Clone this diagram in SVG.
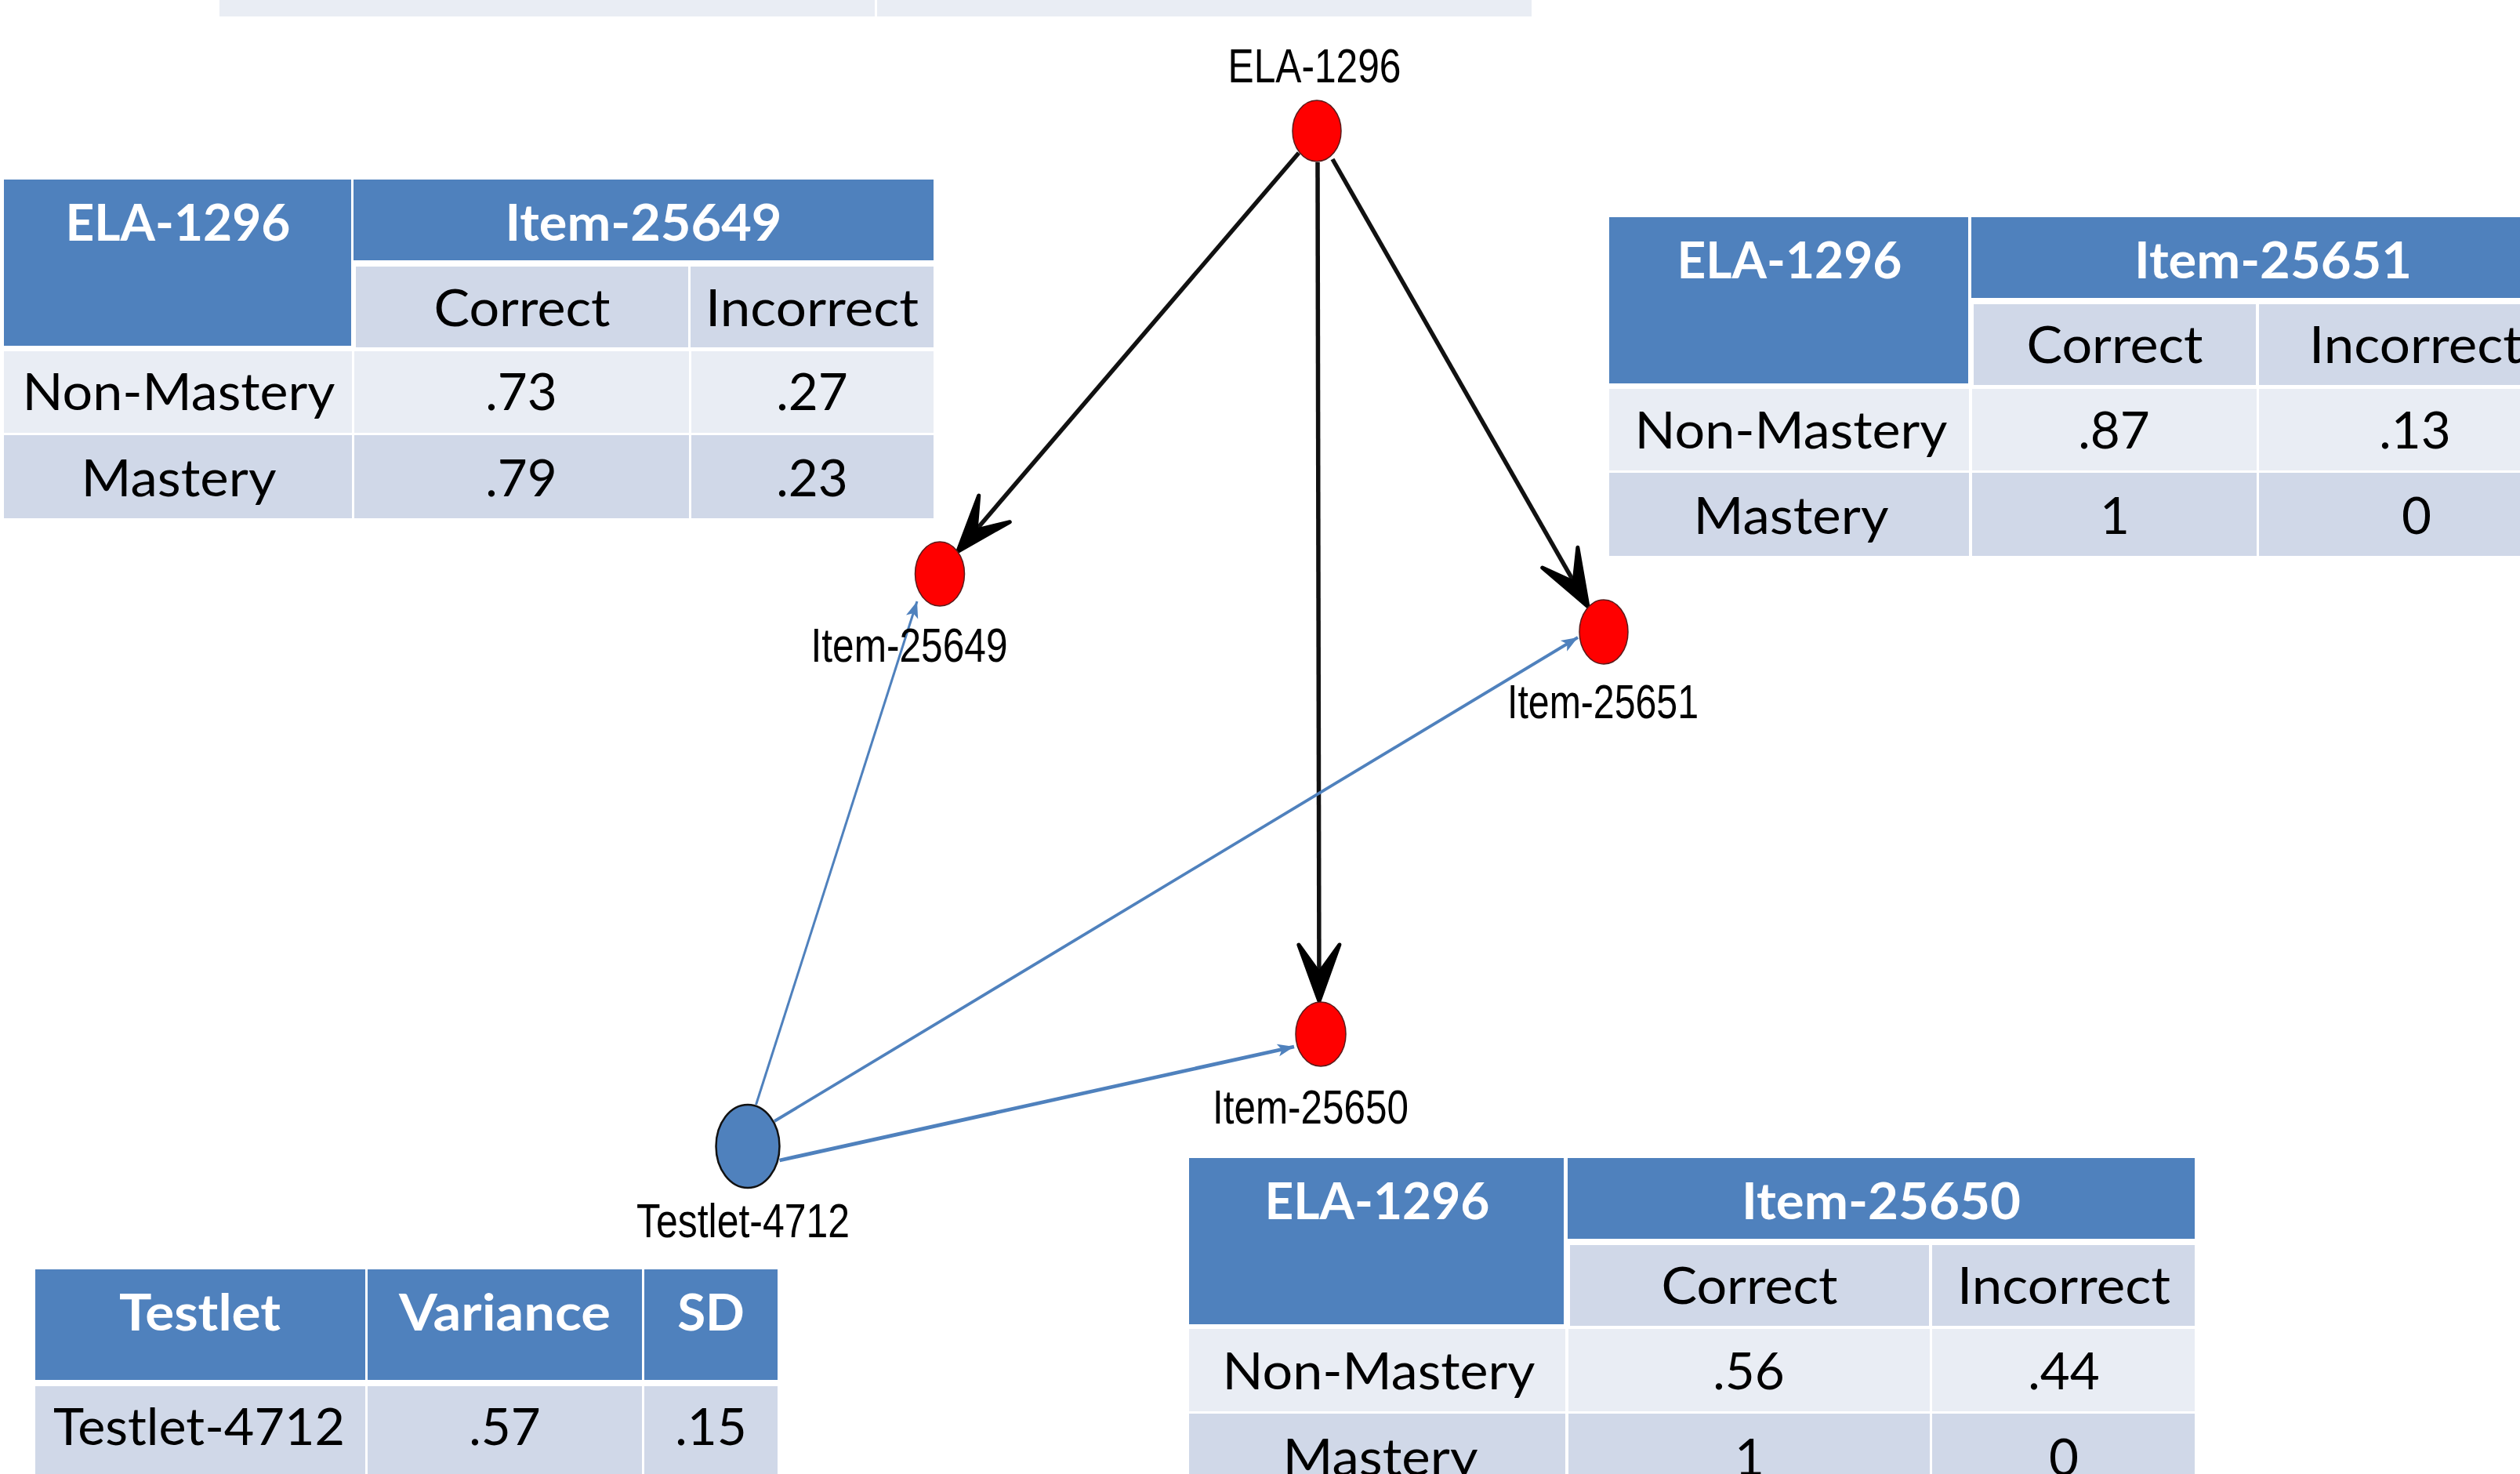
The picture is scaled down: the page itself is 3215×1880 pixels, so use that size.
<svg xmlns="http://www.w3.org/2000/svg" width="3215" height="1880" viewBox="0 0 3215 1880">
<style>
.hdr{fill:#4F81BD}
.lt{fill:#E9EDF4}
.dk{fill:#D0D8E8}
.th{font-family:Lato,"Liberation Sans",sans-serif;font-size:65.5px;font-weight:bold;fill:#FFFFFF;text-anchor:middle}
.td{font-family:Lato,"Liberation Sans",sans-serif;font-size:65.5px;fill:#000000;text-anchor:middle}
.nl{font-family:"Liberation Sans",Arial,sans-serif;font-size:62px;fill:#000000;text-anchor:middle}
.blk{stroke:#111111;stroke-width:5.5;fill:none}
.blu{stroke:#4F81BD;fill:none}
.red{fill:#FF0000;stroke:#5a1a1a;stroke-width:1.5}
</style>
<defs>
<marker id="blackArrow" markerUnits="userSpaceOnUse" markerWidth="90" markerHeight="60" refX="78" refY="30" orient="auto" overflow="visible">
<path d="M80,30 L8,4 L44,30 L8,56 Z" fill="#000000" stroke="#000000" stroke-width="5" stroke-linejoin="round"/>
</marker>
<marker id="blueArrow" markerUnits="userSpaceOnUse" markerWidth="30" markerHeight="20" refX="22" refY="10" orient="auto" overflow="visible">
<path d="M22,10 L1,2 L6,10 L1,18 Z" fill="#4F81BD"/>
</marker>
</defs>
<rect width="3215" height="1880" fill="#FFFFFF"/>

<g id="top-strip">
<rect class="lt" x="280" y="0" width="836" height="21"/>
<rect class="lt" x="1119" y="0" width="835" height="21"/>
</g>

<g id="connectors">
<line class="blk" x1="1657" y1="195" x2="1223" y2="702" marker-end="url(#blackArrow)"/>
<line class="blk" x1="1700" y1="203" x2="2025" y2="772" marker-end="url(#blackArrow)"/>
<line class="blk" x1="1681" y1="207" x2="1683" y2="1275" marker-end="url(#blackArrow)"/>
<line class="blu" stroke-width="3" x1="964.5" y1="1409" x2="1170" y2="767" marker-end="url(#blueArrow)"/>
<line class="blu" stroke-width="3.8" x1="988" y1="1430" x2="2013" y2="813" marker-end="url(#blueArrow)"/>
<line class="blu" stroke-width="4.8" x1="994.5" y1="1480" x2="1651" y2="1335" marker-end="url(#blueArrow)"/>
</g>

<g id="node-ELA-1296">
<ellipse class="red" cx="1680" cy="167" rx="31" ry="39"/>
<text class="nl" x="1677" y="105" textLength="221" lengthAdjust="spacingAndGlyphs">ELA-1296</text>
</g>
<g id="node-Item-25649">
<ellipse class="red" cx="1199" cy="732" rx="31.5" ry="41"/>
<text class="nl" x="1160" y="844" textLength="251" lengthAdjust="spacingAndGlyphs">Item-25649</text>
</g>
<g id="node-Item-25651">
<ellipse class="red" cx="2046" cy="806" rx="31" ry="41"/>
<text class="nl" x="2045" y="916" textLength="244" lengthAdjust="spacingAndGlyphs">Item-25651</text>
</g>
<g id="node-Item-25650">
<ellipse class="red" cx="1685" cy="1319" rx="32" ry="41"/>
<text class="nl" x="1672" y="1433" textLength="250" lengthAdjust="spacingAndGlyphs">Item-25650</text>
</g>
<g id="node-Testlet-4712">
<ellipse cx="954" cy="1462" rx="40.5" ry="53" fill="#4F81BD" stroke="#111111" stroke-width="2.5"/>
<text class="nl" x="948" y="1578" textLength="272" lengthAdjust="spacingAndGlyphs">Testlet-4712</text>
</g>

<g id="table-Item-25649">
<rect class="hdr" x="5" y="229" width="443" height="212"/>
<rect class="hdr" x="451" y="229" width="740" height="103"/>
<rect class="dk" x="454" y="340" width="424" height="103"/>
<rect class="dk" x="881" y="340" width="310" height="103"/>
<rect class="lt" x="5" y="448" width="444" height="104"/>
<rect class="lt" x="452" y="448" width="427" height="104"/>
<rect class="lt" x="882" y="448" width="309" height="104"/>
<rect class="dk" x="5" y="555" width="444" height="106"/>
<rect class="dk" x="452" y="555" width="427" height="106"/>
<rect class="dk" x="882" y="555" width="309" height="106"/>
<text class="th" x="227" y="307" textLength="287" lengthAdjust="spacingAndGlyphs">ELA-1296</text>
<text class="th" x="821" y="307" textLength="353" lengthAdjust="spacingAndGlyphs">Item-25649</text>
<text class="td" x="666" y="416" textLength="225" lengthAdjust="spacingAndGlyphs">Correct</text>
<text class="td" x="1036" y="416" textLength="272" lengthAdjust="spacingAndGlyphs">Incorrect</text>
<text class="td" x="228" y="523" textLength="399" lengthAdjust="spacingAndGlyphs">Non-Mastery</text>
<text class="td" x="665" y="523">.73</text>
<text class="td" x="1036" y="523">.27</text>
<text class="td" x="228" y="633" textLength="249" lengthAdjust="spacingAndGlyphs">Mastery</text>
<text class="td" x="665" y="633">.79</text>
<text class="td" x="1036" y="633">.23</text>
</g>

<g id="table-Item-25651">
<rect class="hdr" x="2053" y="277" width="458" height="212"/>
<rect class="hdr" x="2515" y="277" width="770" height="103"/>
<rect class="dk" x="2518" y="388" width="360" height="103"/>
<rect class="dk" x="2882" y="388" width="403" height="103"/>
<rect class="lt" x="2053" y="496" width="459" height="104"/>
<rect class="lt" x="2516" y="496" width="363" height="104"/>
<rect class="lt" x="2882" y="496" width="403" height="104"/>
<rect class="dk" x="2053" y="603" width="459" height="106"/>
<rect class="dk" x="2516" y="603" width="363" height="106"/>
<rect class="dk" x="2882" y="603" width="403" height="106"/>
<text class="th" x="2283" y="355" textLength="287" lengthAdjust="spacingAndGlyphs">ELA-1296</text>
<text class="th" x="2900" y="355" textLength="354" lengthAdjust="spacingAndGlyphs">Item-25651</text>
<text class="td" x="2698" y="463" textLength="225" lengthAdjust="spacingAndGlyphs">Correct</text>
<text class="td" x="3082" y="463" textLength="272" lengthAdjust="spacingAndGlyphs">Incorrect</text>
<text class="td" x="2285" y="572" textLength="399" lengthAdjust="spacingAndGlyphs">Non-Mastery</text>
<text class="td" x="2697" y="572">.87</text>
<text class="td" x="3081" y="572">.13</text>
<text class="td" x="2285" y="681" textLength="249" lengthAdjust="spacingAndGlyphs">Mastery</text>
<text class="td" x="2698" y="681">1</text>
<text class="td" x="3083" y="681">0</text>
</g>

<g id="table-Item-25650">
<rect class="hdr" x="1517" y="1477" width="478" height="212"/>
<rect class="hdr" x="2000" y="1477" width="800" height="103"/>
<rect class="dk" x="2003" y="1588" width="458" height="103"/>
<rect class="dk" x="2465" y="1588" width="335" height="103"/>
<rect class="lt" x="1517" y="1695" width="480" height="105"/>
<rect class="lt" x="2001" y="1695" width="461" height="105"/>
<rect class="lt" x="2465" y="1695" width="335" height="105"/>
<rect class="dk" x="1517" y="1803" width="480" height="106"/>
<rect class="dk" x="2001" y="1803" width="461" height="106"/>
<rect class="dk" x="2465" y="1803" width="335" height="106"/>
<text class="th" x="1757" y="1555" textLength="287" lengthAdjust="spacingAndGlyphs">ELA-1296</text>
<text class="th" x="2400" y="1555" textLength="356" lengthAdjust="spacingAndGlyphs">Item-25650</text>
<text class="td" x="2232" y="1663" textLength="225" lengthAdjust="spacingAndGlyphs">Correct</text>
<text class="td" x="2633" y="1663" textLength="272" lengthAdjust="spacingAndGlyphs">Incorrect</text>
<text class="td" x="1759" y="1772" textLength="399" lengthAdjust="spacingAndGlyphs">Non-Mastery</text>
<text class="td" x="2231" y="1772">.56</text>
<text class="td" x="2633" y="1772">.44</text>
<text class="td" x="1761" y="1882" textLength="249" lengthAdjust="spacingAndGlyphs">Mastery</text>
<text class="td" x="2232" y="1882">1</text>
<text class="td" x="2633" y="1882">0</text>
</g>

<g id="table-Testlet">
<rect class="hdr" x="45" y="1619" width="421" height="141"/>
<rect class="hdr" x="469" y="1619" width="350" height="141"/>
<rect class="hdr" x="822" y="1619" width="170" height="141"/>
<rect class="dk" x="45" y="1768" width="421" height="120"/>
<rect class="dk" x="469" y="1768" width="350" height="120"/>
<rect class="dk" x="822" y="1768" width="170" height="120"/>
<text class="th" x="255" y="1697" textLength="206" lengthAdjust="spacingAndGlyphs">Testlet</text>
<text class="th" x="644" y="1697" textLength="270" lengthAdjust="spacingAndGlyphs">Variance</text>
<text class="th" x="907" y="1697">SD</text>
<text class="td" x="254" y="1843" textLength="372" lengthAdjust="spacingAndGlyphs">Testlet-4712</text>
<text class="td" x="644" y="1843">.57</text>
<text class="td" x="907" y="1843">.15</text>
</g>
</svg>
